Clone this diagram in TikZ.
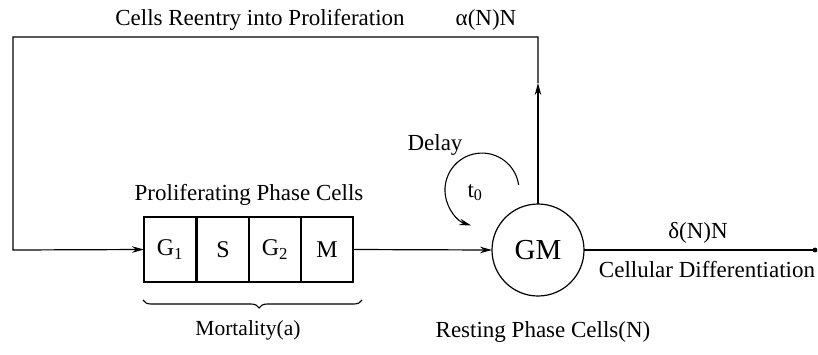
\documentclass[tikz,border=0pt]{standalone}
\usepackage{fontspec}
\setmainfont{Liberation Serif}
\usetikzlibrary{arrows.meta,decorations.pathreplacing,calc}
\begin{document}
\begin{tikzpicture}[x=1pt,y=-1pt,
  lbl/.style={font=\fontsize{23}{27}\selectfont, inner sep=0pt, anchor=base},
  phase/.style={draw, line width=1.2pt, minimum width=52pt, minimum height=65pt, inner sep=0pt, outer sep=0pt, font=\fontsize{24}{28}\selectfont},
  conn/.style={line width=1.2pt},
  tip/.style={-{Stealth[length=12pt,width=6.5pt]}}
]
\useasboundingbox (0,0) rectangle (818,354);

% proliferating phase boxes
\node[phase] (g1) at (170,249.5) {G\textsubscript{1}};
\node[phase] (s)  at (223,249.5) {S};
\node[phase] (g2) at (275,249.5) {G\textsubscript{2}};
\node[phase] (m)  at (327,249.5) {M};

% resting phase circle
\node[draw, circle, line width=1.2pt, minimum size=92pt, inner sep=0pt, outer sep=0pt,
      font=\fontsize{29}{33}\selectfont] (gm) at (538,250) {GM};

% coordinates of the feedback loop
\coordinate (up)  at (538,83);
\coordinate (tr)  at (538,37);
\coordinate (tl)  at (13,37);
\coordinate (bl)  at (13,250);
\coordinate (end) at (815,250);

% connectors
\draw[conn, tip] (gm.north) -- (up);
\draw[conn, tip] (up) -- (tr) -- (tl) -- (bl) -- (g1.west);
\draw[conn, tip] (m.east) -- (gm.west);
\draw[conn] (gm.east) -- (end);
\fill (end) circle[radius=2.4pt];

% delay arc
\draw[line width=1.1pt, tip] (518.6,184.9) arc[start angle=8, end angle=253, radius=37pt];

% brace
\draw[line width=1.1pt, decorate, decoration={brace, amplitude=8pt, aspect=0.47}]
  (362,300) -- (143,300);

% labels
\node[lbl] (title) at (260,25) {Cells Reentry into Proliferation};
\node[lbl] (alpha) at (486,25) {α(N)N};
\node[lbl] (prol)  at (249,200) {Proliferating Phase Cells};
\node[lbl, font=\fontsize{21.5}{25}\selectfont] (mort) at (248,335) {Mortality(a)};
\node[lbl] (delay) at (435,150) {Delay};
\node[lbl] (t0)    at (475,197) {t\textsubscript{0}};
\node[lbl] (delta) at (698,238) {δ(N)N};
\node[lbl] (diff)  at (707,277) {Cellular Differentiation};
\node[lbl] (rest)  at (543,337) {Resting Phase Cells(N)};
\end{tikzpicture}
\end{document}
